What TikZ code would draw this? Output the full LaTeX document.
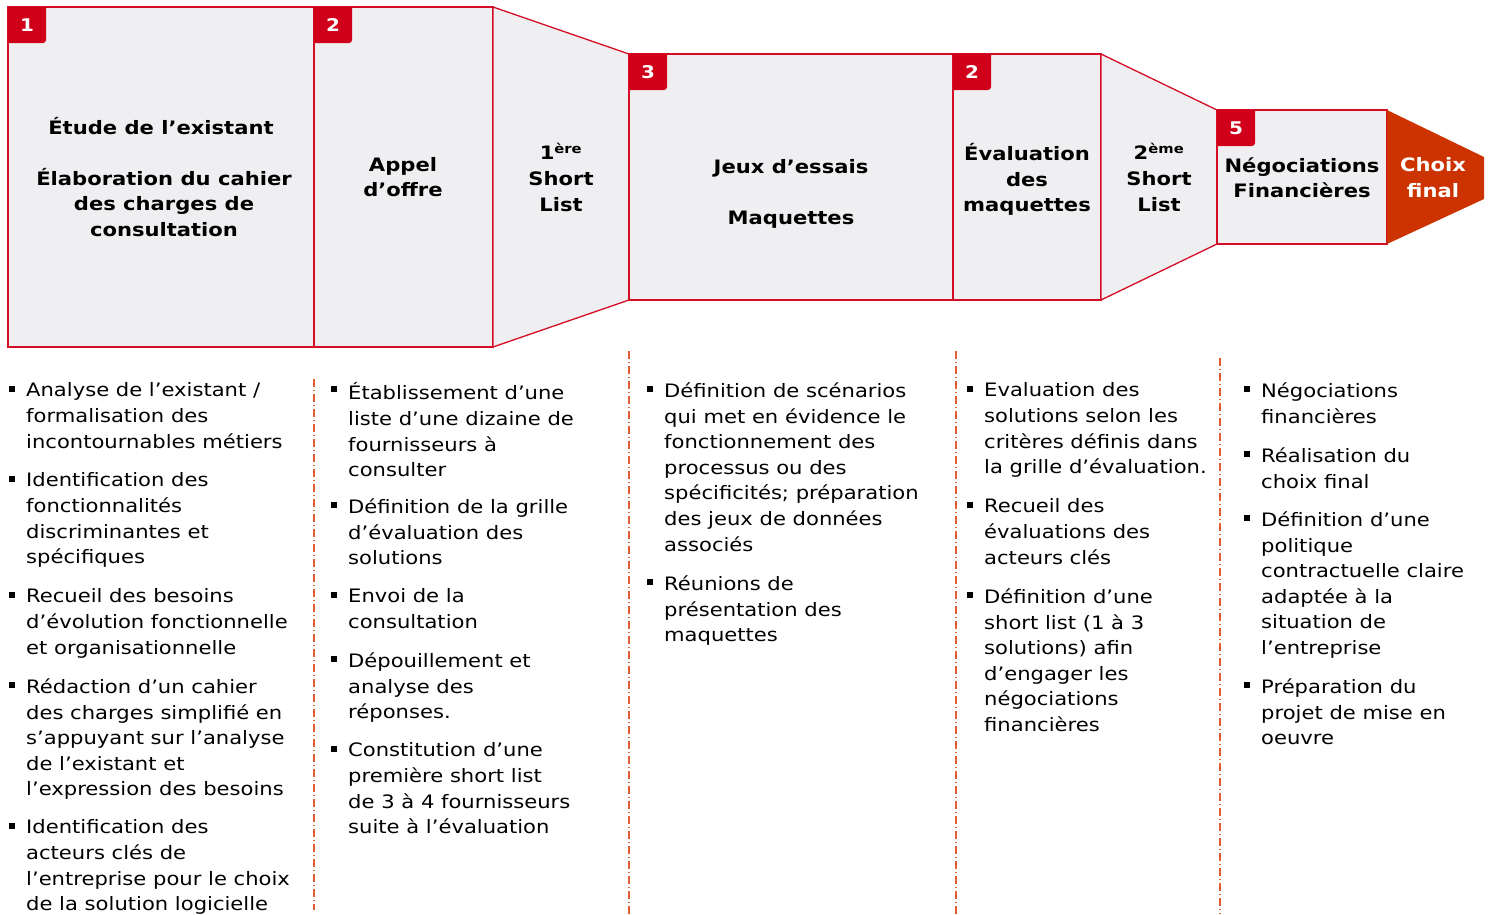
\documentclass[tikz,border=0pt]{standalone}
\usepackage{fontspec}
\setmainfont{DejaVu Sans}[FakeStretch=1.14]
\definecolor{boxred}{RGB}{212,12,38}
\definecolor{badgered}{RGB}{208,0,26}
\definecolor{boxfill}{RGB}{239,239,242}
\definecolor{choixc}{RGB}{204,51,0}
\definecolor{sepc}{RGB}{226,92,52}
\tikzset{
 stage/.style={fill=boxfill, draw=boxred, line width=1.3pt, line join=miter},
 head/.style={font=\fontsize{18.5}{25.6}\selectfont\bfseries, align=center, inner sep=0pt, anchor=center,
   execute at begin node=\strut, execute at end node=\strut},
 itm/.style={font=\fontsize{18.5}{25.6}\selectfont, align=left, inner sep=0pt, anchor=north west,
   execute at begin node=\strut},
 sq/.style={fill=black, inner sep=0pt, minimum size=5.5pt},
 badgefill/.style={fill=badgered},
 num/.style={text=white, font=\fontsize{17.5}{18}\selectfont\bfseries, inner sep=0pt},
 sepline/.style={draw=sepc, line width=1.4pt, dash pattern=on 8pt off 3pt on 1pt off 3pt}
}
\newcommand\bitem[4]{%
  \node[itm, yshift=12.92pt] (#1) at (#2,#3) {#4};
  \node[sq] (#1s) at (#2-14,#3-6.5) {};
}
\newcommand\badgebox[4]{%
  \fill[badgefill] (#2,#3) -- (#2+38,#3) {[rounded corners=3pt] -- (#2+38,#3+36) -- (#2+19,#3+36)} -- (#2,#3+36) -- cycle;
  \node[num] (#1) at (#2+19,#3+18) {#4};
}
\begin{document}
\begin{tikzpicture}[x=1pt, y=-1pt]
\useasboundingbox[fill=white] (0,0) rectangle (1492,914);
% stages
\path[stage] (8,7) rectangle (314,347);
\path[stage] (314,7) rectangle (493,347);
\path[stage] (493,7) -- (629,54) -- (629,300) -- (493,347) -- cycle;
\path[stage] (629,54) rectangle (953,300);
\path[stage] (953,54) rectangle (1101,300);
\path[stage] (1101,54) -- (1217,110) -- (1217,244) -- (1101,300) -- cycle;
\path[stage] (1217,110) rectangle (1387,244);
\fill[choixc] (1387,110) -- (1484,157) -- (1484,199) -- (1387,244) -- cycle;
% badges
\badgebox{b1}{8}{7}{1}
\badgebox{b2}{314}{7}{2}
\badgebox{b3}{629}{54}{3}
\badgebox{b4}{953}{54}{2}
\badgebox{b5}{1217}{110}{5}
% headings
\node[head] (t1a) at (161,129) {Étude de l’existant};
\node[head] (t1b) at (164,206) {Élaboration du cahier\\des charges de\\consultation};
\node[head] (t2) at (403,181) {Appel\\d’offre};
\node[head] (t3) at (561,181) {1\textsuperscript{ère}\\Short\\List};
\node[head] (t4a) at (791,168) {Jeux d’essais};
\node[head] (t4b) at (791,219) {Maquettes};
\node[head] (t5) at (1027,181.5) {Évaluation\\des\\maquettes};
\node[head] (t6) at (1159,181) {2\textsuperscript{ème}\\Short\\List};
\node[head] (t7) at (1302,181.5) {Négociations\\Financières};
\node[head, text=white] (t8) at (1433,181.5) {Choix\\final};
% separators
\coordinate (s1a) at (314,379); \coordinate (s1b) at (314,910);
\coordinate (s2a) at (629,351); \coordinate (s2b) at (629,914);
\coordinate (s3a) at (956,351); \coordinate (s3b) at (956,914);
\coordinate (s4a) at (1220,358); \coordinate (s4b) at (1220,914);
\draw[sepline] (s1a) -- (s1b);
\draw[sepline] (s2a) -- (s2b);
\draw[sepline] (s3a) -- (s3b);
\draw[sepline] (s4a) -- (s4b);
% column 1
\bitem{c1a}{26}{395.5}{Analyse de l’existant /\\formalisation des\\incontournables métiers}
\bitem{c1b}{26}{485.5}{Identification des\\fonctionnalités\\discriminantes et\\spécifiques}
\bitem{c1c}{26}{601.5}{Recueil des besoins\\d’évolution fonctionnelle\\et organisationnelle}
\bitem{c1d}{26}{691.5}{Rédaction d’un cahier\\des charges simplifié en\\s’appuyant sur l’analyse\\de l’existant et\\l’expression des besoins}
\bitem{c1e}{26}{832.5}{Identification des\\acteurs clés de\\l’entreprise pour le choix\\de la solution logicielle}
% column 2
\bitem{c2a}{348}{395.5}{Établissement d’une\\liste d’une dizaine de\\fournisseurs à\\consulter}
\bitem{c2b}{348}{511.5}{Définition de la grille\\d’évaluation des\\solutions}
\bitem{c2c}{348}{601.5}{Envoi de la\\consultation}
\bitem{c2d}{348}{665.5}{Dépouillement et\\analyse des\\réponses.}
\bitem{c2e}{348}{755.5}{Constitution d’une\\première short list\\de 3 à 4 fournisseurs\\suite à l’évaluation}
% column 3
\bitem{c3a}{664}{395.5}{Définition de scénarios\\qui met en évidence le\\fonctionnement des\\processus ou des\\spécificités; préparation\\des jeux de données\\associés}
\bitem{c3b}{664}{588.5}{Réunions de\\présentation des\\maquettes}
% column 4
\bitem{c4a}{984}{395.5}{Evaluation des\\solutions selon les\\critères définis dans\\la grille d’évaluation.}
\bitem{c4b}{984}{511.5}{Recueil des\\évaluations des\\acteurs clés}
\bitem{c4c}{984}{601.5}{Définition d’une\\short list (1 à 3\\solutions) afin\\d’engager les\\négociations\\financières}
% column 5
\bitem{c5a}{1261}{395.5}{Négociations\\financières}
\bitem{c5b}{1261}{460.5}{Réalisation du\\choix final}
\bitem{c5c}{1261}{524.5}{Définition d’une\\politique\\contractuelle claire\\adaptée à la\\situation de\\l’entreprise}
\bitem{c5d}{1261}{691.5}{Préparation du\\projet de mise en\\oeuvre}
\end{tikzpicture}
\end{document}
